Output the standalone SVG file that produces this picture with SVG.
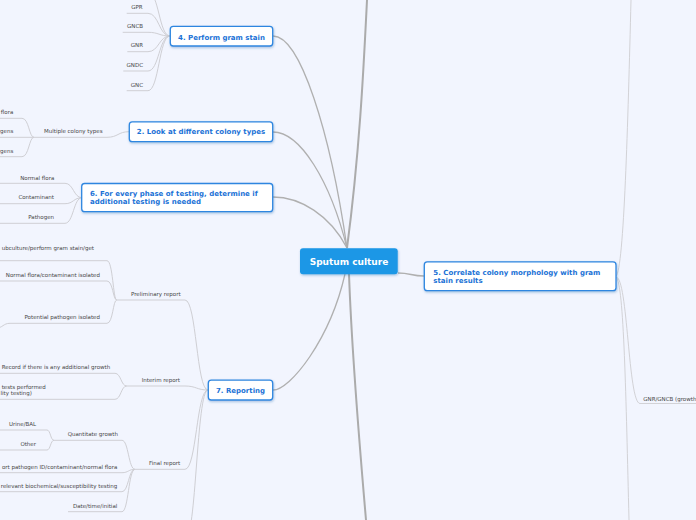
<svg xmlns="http://www.w3.org/2000/svg" width="696" height="520" viewBox="0 0 696 520">
<defs>
<filter id="sh" x="-10%" y="-20%" width="120%" height="150%">
<feDropShadow dx="0.6" dy="1.2" stdDeviation="0.8" flood-color="#1f5fa8" flood-opacity="0.35"/>
</filter>
<style>
.bg{fill:#f2f5fe}
.main{fill:none;stroke:#b0b0b0;stroke-width:1.3}
.thick{fill:none;stroke:#ababab;stroke-width:2}
.sub{fill:none;stroke:#cfcfd4;stroke-width:1}
.lite{fill:none;stroke:#d2d2d6;stroke-width:1}
.box{fill:#ffffff;stroke:#2f86e0;stroke-width:1.3;filter:url(#sh)}
.root{fill:#1b97e6;filter:url(#sh)}
.nt{font-family:"DejaVu Sans",Verdana,sans-serif;font-weight:bold;font-size:7px;fill:#1b72d6}
.rt{font-family:"DejaVu Sans",Verdana,sans-serif;font-weight:bold;font-size:9px;fill:#ffffff}
.lb{font-family:"DejaVu Sans",Verdana,sans-serif;font-size:5.5px;fill:#474747}
.e{text-anchor:end}
.m{text-anchor:middle}
</style>
</defs>
<rect class="bg" x="0" y="0" width="696" height="520"/>
<g id="connectors">
<path class="main" d="M273,36 C300,36 330,130 347,248"/>
<path class="main" d="M273,132 C300,132 330,180 347,248"/>
<path class="main" d="M273,197 C300,197 330,215 347,248"/>
<path class="main" d="M345,274 C330,340 290,390 273,390"/>
<path class="thick" d="M347,248 C360,150 364,60 367,0"/>
<path class="thick" d="M349,274 C352,360 360,450 366,520"/>
<path class="main" d="M398,273 C411,273 411,276 424,276"/>
<path class="lite" d="M616,276 C624,270 628,120 631,0"/>
<path class="lite" d="M616,277 C624,282 626,400 629,520"/>
<path class="lite" d="M616,277 C628,277 628,403.5 640,403.5 L696,403.5"/>
<path class="sub" d="M126.7,13.3 L148,13.3 C159,13.3 159,36 170,36"/>
<path class="sub" d="M122.7,32.3 L148,32.3 C159,32.3 159,36 170,36"/>
<path class="sub" d="M127.3,51.7 L148,51.7 C159,51.7 159,36 170,36"/>
<path class="sub" d="M123.3,71 L148,71 C159,71 159,36 170,36"/>
<path class="sub" d="M126.7,90.7 L148,90.7 C159,90.7 159,36 170,36"/>
<path class="sub" d="M148,-8 C159,-8 159,36 170,36"/>
<path class="sub" d="M34,137.3 L107,137.3 C118,137.3 118,131.7 129,131.7"/>
<path class="sub" d="M0,118.3 L22,118.3 C29,118.3 29,137.3 34,137.3"/>
<path class="sub" d="M0,137.3 L34,137.3"/>
<path class="sub" d="M0,156.7 L22,156.7 C29,156.7 29,137.3 34,137.3"/>
<path class="sub" d="M0,183.3 L65,183.3 C73.5,183.3 73.5,197.7 82,197.7"/>
<path class="sub" d="M0,203.7 L65,203.7 C73.5,203.7 73.5,197.7 82,197.7"/>
<path class="sub" d="M0,223.3 L65,223.3 C73.5,223.3 73.5,197.7 82,197.7"/>
<path class="sub" d="M116.7,300 L185,300 C196.5,300 196.5,390 208,390"/>
<path class="sub" d="M126.7,386 L185,386 C196.5,386 196.5,390 208,390"/>
<path class="sub" d="M135,469.3 L185,469.3 C196.5,469.3 196.5,390 208,390"/>
<path class="sub" d="M185,540 C196.5,540 196.5,390 208,390"/>
<path class="sub" d="M0,260.7 L107,260.7 C113,260.7 113,300 116.7,300"/>
<path class="sub" d="M0,281 L107,281 C113,281 113,300 116.7,300"/>
<path class="sub" d="M10,323.3 L107,323.3 C113,323.3 113,300 116.7,300"/>
<path class="sub" d="M-4,328 C3,328 3,323.3 10,323.3"/>
<path class="sub" d="M0,373.3 L115,373.3 C121,373.3 121,386 126.7,386"/>
<path class="sub" d="M0,399.3 L115,399.3 C121,399.3 121,386 126.7,386"/>
<path class="sub" d="M54,440.3 L122,440.3 C128.5,440.3 128.5,469.3 135,469.3"/>
<path class="sub" d="M0,472.7 L122,472.7 C128.5,472.7 128.5,469.3 135,469.3"/>
<path class="sub" d="M0,491.7 L122,491.7 C128.5,491.7 128.5,469.3 135,469.3"/>
<path class="sub" d="M68,511.7 L122,511.7 C128.5,511.7 128.5,469.3 135,469.3"/>
<path class="sub" d="M0,430 L47,430 C50.5,430 50.5,440.3 54,440.3"/>
<path class="sub" d="M0,450 L47,450 C50.5,450 50.5,440.3 54,440.3"/>
</g>
<g id="root">
<rect class="root" x="300" y="248.3" width="97.7" height="26" rx="3"/>
<text class="rt m" x="349" y="265.2">Sputum culture</text>
</g>
<g id="n4">
<rect class="box" x="170.3" y="26.3" width="102.4" height="19.7" rx="3"/>
<text class="nt m" x="221.5" y="39.5">4. Perform gram stain</text>
</g>
<g id="n2">
<rect class="box" x="129.3" y="121.9" width="143.4" height="19.8" rx="3"/>
<text class="nt m" x="201" y="134.2">2. Look at different colony types</text>
</g>
<g id="n6">
<rect class="box" x="81.7" y="183.5" width="191" height="28.2" rx="3"/>
<text class="nt" x="90" y="195.8">6. For every phase of testing, determine if</text>
<text class="nt" x="90" y="204.2">additional testing is needed</text>
</g>
<g id="n7">
<rect class="box" x="208.3" y="380.2" width="64.4" height="19.8" rx="3"/>
<text class="nt m" x="240.5" y="392.6">7. Reporting</text>
</g>
<g id="n5">
<rect class="box" x="424.3" y="261.9" width="191.7" height="28.8" rx="3"/>
<text class="nt" x="433.3" y="275.2">5. Correlate colony morphology with gram</text>
<text class="nt" x="433.3" y="283.4">stain results</text>
</g>
<g id="labels">
<text class="lb e" x="142.7" y="8.7">GPR</text>
<text class="lb e" x="143" y="27.7">GNCB</text>
<text class="lb e" x="143" y="47">GNR</text>
<text class="lb e" x="143" y="67">GNDC</text>
<text class="lb e" x="143" y="87">GNC</text>
<text class="lb e" x="13.3" y="114.3">flora</text>
<text class="lb e" x="13.3" y="133">gens</text>
<text class="lb e" x="13.3" y="153">gens</text>
<text class="lb" x="44" y="133">Multiple colony types</text>
<text class="lb e" x="54.3" y="179.7">Normal flora</text>
<text class="lb e" x="54" y="199">Contaminant</text>
<text class="lb e" x="54" y="219">Pathogen</text>
<text class="lb e" x="94" y="249.7">ubculture/perform gram stain/get</text>
<text class="lb e" x="100" y="277">Normal flora/contaminant isolated</text>
<text class="lb e" x="100" y="319.3">Potential pathogen isolated</text>
<text class="lb" x="131" y="296">Preliminary report</text>
<text class="lb" x="1.7" y="368.7">Record if there is any additional growth</text>
<text class="lb e" x="45.7" y="388.7">tests performed</text>
<text class="lb e" x="32" y="394.7">lity testing)</text>
<text class="lb" x="141.7" y="382">Interim report</text>
<text class="lb" x="9" y="426">Urine/BAL</text>
<text class="lb e" x="36" y="446">Other</text>
<text class="lb" x="67.7" y="436.3">Quantitate growth</text>
<text class="lb" x="149" y="465">Final report</text>
<text class="lb e" x="117.3" y="469">ort pathogen ID/contaminant/normal flora</text>
<text class="lb e" x="117.3" y="488">relevant biochemical/susceptibility testing</text>
<text class="lb e" x="117.3" y="508">Date/time/initial</text>
<text class="lb" x="643.3" y="400.5">GNR/GNCB (growth</text>
</g>
</svg>
